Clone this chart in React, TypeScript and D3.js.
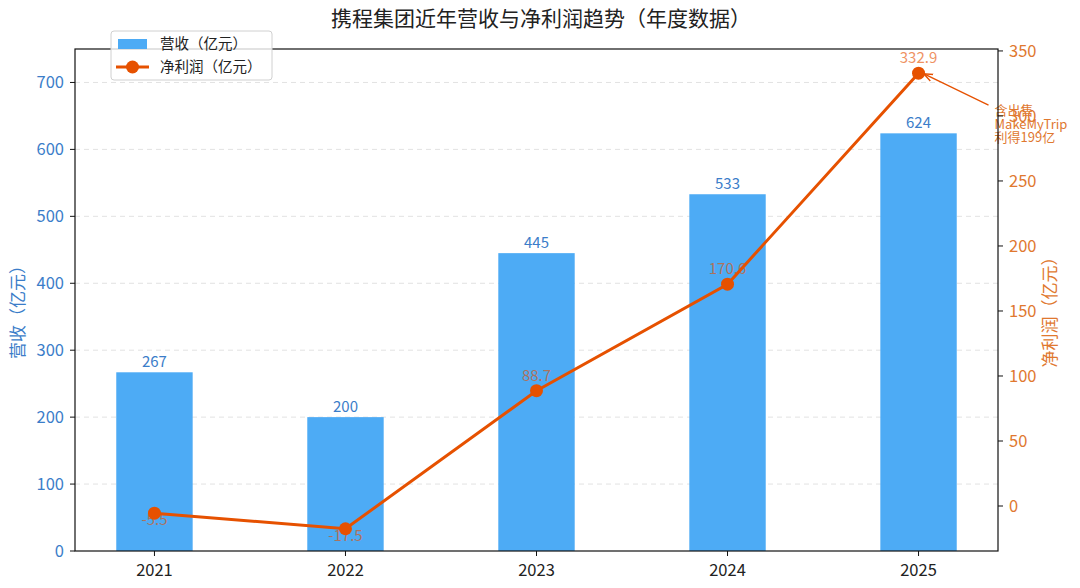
import { useEffect } from "react";
import * as d3 from "d3";

const years = ["2021", "2022", "2023", "2024", "2025"];
const revenue = [267, 200, 445, 533, 624];
const profit = [-5.5, -17.5, 88.7, 170.6, 332.9];
const revenueTicks = [0, 100, 200, 300, 400, 500, 600, 700];
const profitTicks = [0, 50, 100, 150, 200, 250, 300, 350];
const noteLines = ["含出售", "MakeMyTrip", "利得199亿"];

const W = 1080;
const H = 588;
const FONT = "'Noto Sans CJK SC', 'Noto Sans', sans-serif";
const BAR = "#4DABF5";
const LINE = "#E65100";
const BLUE_TXT = "#3B7DC9";
const ORANGE_TXT = "#E0782F";

export default function App() {
  useEffect(() => {
    document.body.style.margin = "0";
  }, []);

  const m = { top: 49, right: 82, bottom: 37, left: 75 };
  const x = d3
    .scalePoint<string>()
    .domain(years)
    .range([m.left, W - m.right])
    .padding(0.416);
  const step = x.step();
  const barW = step * 0.4;
  const yL = d3.scaleLinear().domain([0, 750]).range([H - m.bottom, m.top]);
  const yR = d3.scaleLinear().domain([-34.6, 351.5]).range([H - m.bottom, m.top]);

  const linePath = d3
    .line<number>()
    .x((_, i) => x(years[i]) || 0)
    .y((d) => yR(d))(profit);

  const last = profit.length - 1;
  const px = x(years[last]) || 0;
  const py = yR(profit[last]);

  return (
    <svg width={W} height={H} style={{ display: "block", fontFamily: FONT }}>
      <defs>
        <marker id="ah" viewBox="0 0 10 10" refX="9" refY="5" markerWidth="7" markerHeight="7" orient="auto-start-reverse">
          <path d="M0,1 L10,5 L0,9" fill="none" stroke={LINE} strokeWidth="1.5" />
        </marker>
      </defs>
      <rect width={W} height={H} fill="#fff" />
      <text x={W / 2 + 1} y={26} textAnchor="middle" fontSize={21} fill="#222">
        携程集团近年营收与净利润趋势（年度数据）
      </text>

      {/* grid */}
      {revenueTicks.slice(1).map((t) => (
        <line key={t} x1={m.left} x2={W - m.right} y1={yL(t)} y2={yL(t)} stroke="#e2e2e2" strokeDasharray="5,4" />
      ))}

      {/* bars */}
      {revenue.map((v, i) => (
        <g key={years[i]}>
          <rect x={(x(years[i]) || 0) - barW / 2} y={yL(v)} width={barW} height={yL(0) - yL(v)} fill={BAR} />
          <text x={x(years[i]) || 0} y={yL(v) - 5} textAnchor="middle" fontSize={15} fill={BLUE_TXT}>
            {v}
          </text>
        </g>
      ))}

      {/* profit labels */}
      {profit.map((v, i) => (
        <text
          key={years[i]}
          x={x(years[i]) || 0}
          y={v >= 0 ? yR(v) - 10 : yR(v) + 12}
          textAnchor="middle"
          fontSize={15}
          fill={LINE}
          opacity={0.62}
        >
          {v}
        </text>
      ))}

      <path d={linePath || ""} fill="none" stroke={LINE} strokeWidth={3} />
      {profit.map((v, i) => (
        <circle key={years[i]} cx={x(years[i]) || 0} cy={yR(v)} r={6.5} fill={LINE} />
      ))}

      {/* annotation */}
      <line x1={px + 70} y1={py + 32} x2={px + 6} y2={py + 1} stroke={LINE} strokeWidth={1.3} markerEnd="url(#ah)" />
      {noteLines.map((s, i) => (
        <text key={s} x={px + 76} y={py + 42 + i * 13.5} fontSize={13} fill={ORANGE_TXT}>
          {s}
        </text>
      ))}

      {/* frame */}
      <rect x={m.left} y={m.top} width={W - m.left - m.right} height={H - m.top - m.bottom} fill="none" stroke="#111" strokeWidth={1.2} />

      {/* left axis */}
      {revenueTicks.map((t) => (
        <g key={t}>
          <line x1={m.left - 5} x2={m.left} y1={yL(t)} y2={yL(t)} stroke="#111" />
          <text x={m.left - 11} y={yL(t)} dy="0.35em" textAnchor="end" fontSize={16.5} fill={BLUE_TXT}>
            {t}
          </text>
        </g>
      ))}
      <text transform={`translate(24,${(m.top + H - m.bottom) / 2 + 8}) rotate(-90)`} textAnchor="middle" fontSize={17} fill={BLUE_TXT}>
        营收（亿元）
      </text>

      {/* right axis */}
      {profitTicks.map((t) => (
        <g key={t}>
          <line x1={W - m.right} x2={W - m.right + 5} y1={yR(t)} y2={yR(t)} stroke="#111" />
          <text x={W - m.right + 11} y={yR(t)} dy="0.35em" textAnchor="start" fontSize={16.5} fill={ORANGE_TXT}>
            {t}
          </text>
        </g>
      ))}
      <text transform={`translate(1056,${(m.top + H - m.bottom) / 2 + 8}) rotate(-90)`} textAnchor="middle" fontSize={17} fill={ORANGE_TXT}>
        净利润（亿元）
      </text>

      {/* bottom axis */}
      {years.map((yr) => (
        <g key={yr}>
          <line x1={x(yr) || 0} x2={x(yr) || 0} y1={H - m.bottom} y2={H - m.bottom + 5} stroke="#111" />
          <text x={x(yr) || 0} y={H - m.bottom + 25} textAnchor="middle" fontSize={16.5} fill="#222">
            {yr}
          </text>
        </g>
      ))}

      {/* legend */}
      <g transform="translate(111,31)">
        <rect width={161} height={49} rx={3} fill="#fff" fillOpacity={0.8} stroke="#d0d0d0" />
        <rect x={7} y={8} width={29} height={10} fill={BAR} />
        <text x={49} y={13} dy="0.35em" fontSize={14.5} fill="#222">
          营收（亿元）
        </text>
        <line x1={5} x2={38} y1={36} y2={36} stroke={LINE} strokeWidth={3} />
        <circle cx={21.5} cy={36} r={6.5} fill={LINE} />
        <text x={49} y={36} dy="0.35em" fontSize={14.5} fill="#222">
          净利润（亿元）
        </text>
      </g>
    </svg>
  );
}
